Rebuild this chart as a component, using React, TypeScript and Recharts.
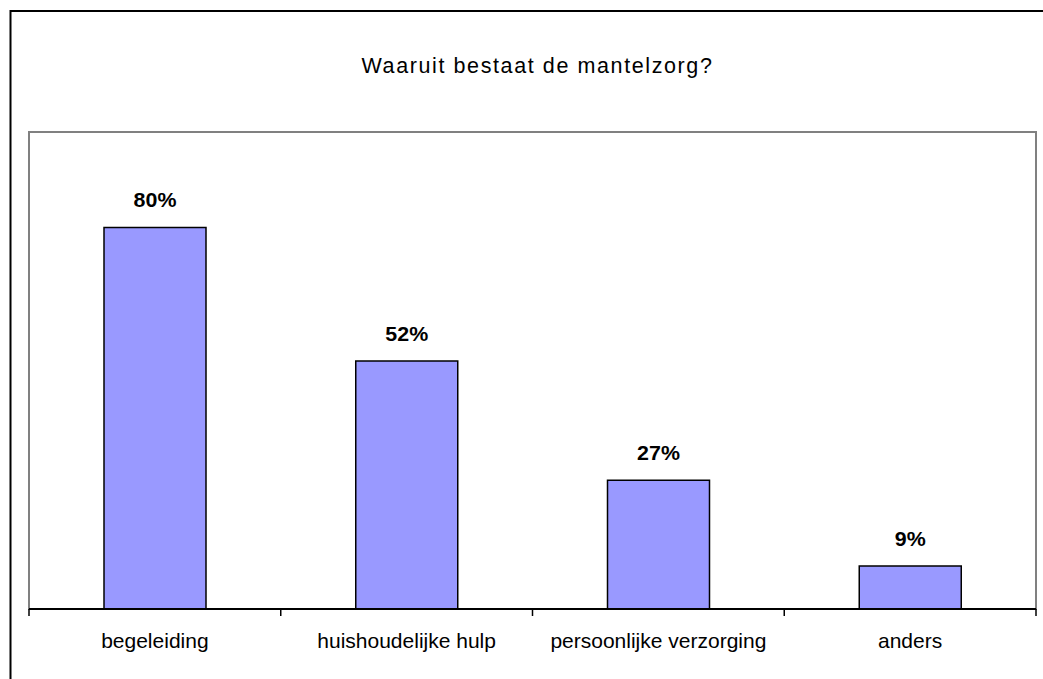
import { Bar, BarChart, LabelList, XAxis, YAxis } from "recharts"

const categories = ["begeleiding", "huishoudelijke hulp", "persoonlijke verzorging", "anders"]
const percentages = [80, 52, 27, 9]
const title = "Waaruit bestaat de mantelzorg?"

const data = categories.map((name, i) => ({ name, value: percentages[i] }))

const W = 1043
const H = 679
const FONT = "'Liberation Sans', Arial, sans-serif"
const margin = { top: 132, right: 7, left: 29, bottom: 30 }
const bandHalf = (W - margin.left - margin.right) / categories.length / 2

function CategoryTick(props: any) {
  const { x, y, payload, index } = props
  const axisY = y - 6
  const half = payload?.offset || bandHalf
  return (
    <g>
      <line x1={x - half} x2={x - half} y1={axisY} y2={axisY + 7} stroke="#000" strokeWidth={1.5} />
      {index === categories.length - 1 && (
        <line x1={x + half} x2={x + half} y1={axisY} y2={axisY + 7} stroke="#000" strokeWidth={1.5} />
      )}
      <text x={x} y={axisY + 39} textAnchor="middle" fontFamily={FONT} fontSize={21} fill="#000">
        {payload.value}
      </text>
    </g>
  )
}

function PercentLabel(props: any) {
  const { x, y, width, value } = props
  const cx = Number(x) + Number(width) / 2
  const cy = Number(y) - 20
  return (
    <text
      transform={`translate(${cx},${cy}) scale(1.07,1)`}
      textAnchor="middle"
      fontFamily={FONT}
      fontSize={20}
      fontWeight="bold"
      fill="#000"
    >
      {`${value}%`}
    </text>
  )
}

export default function App() {
  return (
    <div style={{ position: "absolute", left: 0, top: 0, width: W, height: H, background: "#fff", overflow: "hidden" }}>
      <svg width={W} height={H} style={{ position: "absolute", left: 0, top: 0 }}>
        <line x1={10.5} x2={10.5} y1={10} y2={H} stroke="#000" strokeWidth={2} />
        <line x1={10} x2={W} y1={11} y2={11} stroke="#000" strokeWidth={2} />
        <rect x={29} y={132} width={1007} height={477} fill="none" stroke="#808080" strokeWidth={2} />
        <text
          x={537.5}
          y={73}
          textAnchor="middle"
          fontFamily={FONT}
          fontSize={21.5}
          letterSpacing={1.6}
          fill="#000"
        >
          {title}
        </text>
      </svg>
      <div style={{ position: "absolute", left: 0, top: 0 }}>
        <BarChart width={W} height={H} data={data} margin={margin}>
          <YAxis hide domain={[0, 100]} />
          <XAxis
            dataKey="name"
            height={40}
            tickSize={6}
            tickMargin={0}
            tickLine={false}
            axisLine={{ stroke: "#000", strokeWidth: 2 }}
            tick={<CategoryTick />}
            interval={0}
          />
          <Bar dataKey="value" fill="#9999FF" stroke="#000" strokeWidth={1.5} barSize={102} isAnimationActive={false}>
            <LabelList dataKey="value" content={<PercentLabel />} />
          </Bar>
        </BarChart>
      </div>
    </div>
  )
}
